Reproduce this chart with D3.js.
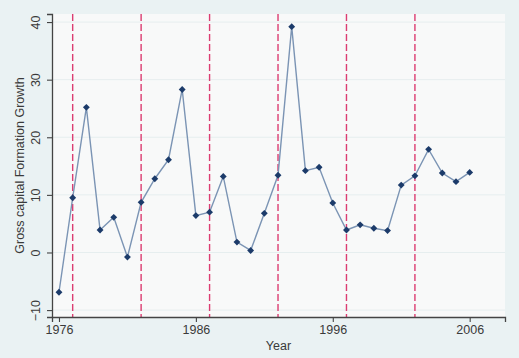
<!DOCTYPE html>
<html><head><meta charset="utf-8">
<script src="https://cdn.jsdelivr.net/npm/d3@7"></script>
<style>
html,body{margin:0;padding:0;background:#eaf2f3;}
svg{display:block;}
text{font-family:"Liberation Sans",Arial,sans-serif;fill:#3a3a3a;}
</style></head>
<body>
<svg id="chart" width="519" height="358"></svg>
<script>
const years = [1976,1977,1978,1979,1980,1981,1982,1983,1984,1985,1986,1987,1988,1989,1990,1991,1992,1993,1994,1995,1996,1997,1998,1999,2000,2001,2002,2003,2004,2005,2006];
const growth = [-6.9,9.5,25.2,3.9,6.1,-0.8,8.7,12.8,16.1,28.3,6.4,7.0,13.2,1.8,0.35,6.8,13.4,39.2,14.2,14.8,8.6,3.9,4.8,4.2,3.8,11.7,13.3,17.9,13.8,12.3,13.9];
const breakYears = [1977,1982,1987,1992,1997,2002];
const xTicks = [1976,1986,1996,2006];
const yTicks = [-10,0,10,20,30,40];
const xTitle = "Year";
const yTitle = "Gross capital Formation Growth";

const svg = d3.select("#chart");
const W = 519, H = 358;
const m = {left:52, right:14, top:14, bottom:41};
const x = d3.scaleLinear().domain([1975.49, 2008.58]).range([m.left, W - m.right]);
const y = d3.scaleLinear().domain([-11.2, 41.4]).range([H - m.bottom, m.top]);

svg.append("rect").attr("width", W).attr("height", H).attr("fill", "#eaf2f3");
svg.append("rect").attr("x", m.left).attr("y", m.top)
  .attr("width", W - m.left - m.right).attr("height", H - m.top - m.bottom)
  .attr("fill", "#f8f9f9");

// grid
svg.append("g").selectAll("line").data(yTicks).join("line")
  .attr("x1", m.left).attr("x2", W - m.right)
  .attr("y1", d => y(d)).attr("y2", d => y(d))
  .attr("stroke", "#e6eeef").attr("stroke-width", 1);

// break lines
svg.append("g").selectAll("line").data(breakYears).join("line")
  .attr("x1", d => x(d)).attr("x2", d => x(d))
  .attr("y1", m.top).attr("y2", H - m.bottom)
  .attr("stroke", "#dc3d72").attr("stroke-width", 1.4)
  .attr("stroke-dasharray", "7,3");

// axes
const yAxis = svg.append("g").attr("transform", `translate(${m.left},0)`)
  .call(d3.axisLeft(y).tickValues(yTicks).tickSize(5).tickPadding(4).tickFormat(d3.format("d")));
yAxis.selectAll("text")
  .attr("x", 0).attr("y", 0).attr("dy", 0)
  .attr("transform", "translate(-12,0) rotate(-90)")
  .style("text-anchor", "middle").attr("font-size", 12.5);

const xAxis = svg.append("g").attr("transform", `translate(0,${H - m.bottom})`)
  .call(d3.axisBottom(x).tickValues(xTicks).tickSize(5).tickPadding(3).tickFormat(d3.format("d")));
xAxis.selectAll("text").attr("font-size", 12.5);
[yAxis, xAxis].forEach(a => {
  a.select(".domain").attr("stroke", "#444").attr("stroke-width", 1.3);
  a.selectAll(".tick line").attr("stroke", "#444").attr("stroke-width", 1.1);
  a.selectAll("text").attr("fill", "#3a3a3a").attr("font-family", "Liberation Sans, Arial, sans-serif");
});

// titles
svg.append("text").attr("x", (m.left + W - m.right)/2).attr("y", H - 8)
  .attr("text-anchor", "middle").attr("font-size", 12.5).text(xTitle);
svg.append("text").attr("transform", `translate(24,${(m.top + H - m.bottom)/2}) rotate(-90)`)
  .attr("text-anchor", "middle").attr("font-size", 12.5).text(yTitle);

// line + markers
const pts = years.map((yr, i) => ({yr, v: growth[i]}));
svg.append("path").datum(pts)
  .attr("d", d3.line().x(d => x(d.yr)).y(d => y(d.v)))
  .attr("fill", "none").attr("stroke", "#7b94b4").attr("stroke-width", 1.4);
svg.append("g").selectAll("path").data(pts).join("path")
  .attr("transform", d => `translate(${x(d.yr)},${y(d.v)})`)
  .attr("d", d3.symbol().type(d3.symbolDiamond2).size(30))
  .attr("fill", "#1c3b6a");
</script>
</body></html>
